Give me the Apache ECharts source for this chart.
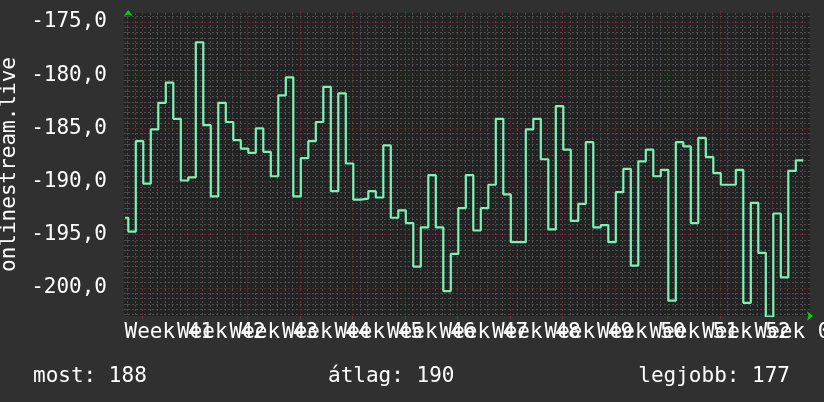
<!DOCTYPE html>
<html><head><meta charset="utf-8">
<script src="https://cdn.jsdelivr.net/npm/echarts@6/dist/echarts.min.js"></script>
<style>html,body{margin:0;padding:0;background:#303030;}#c{width:824px;height:402px;}</style>
</head><body><div id="c"></div>
<script>
// Daily values (one per day, oldest first)
const values = [
  -193.4, -194.7, -186.2, -190.2, -185.1, -182.6, -180.7, -184.1, -189.9, -189.6,
  -176.9, -184.7, -191.4, -182.6, -184.4, -186.1, -186.9, -187.3, -185.0, -187.2,
  -189.5, -181.9, -180.2, -191.4, -187.8, -186.2, -184.4, -181.1, -190.9, -181.7,
  -188.3, -191.7, -191.6, -190.9, -191.5, -186.6, -193.4, -192.7, -193.9, -198.0,
  -194.3, -189.4, -194.3, -200.3, -196.8, -192.5, -189.4, -194.6, -192.5, -190.3,
  -184.1, -191.2, -195.7, -195.7, -185.1, -184.1, -187.9, -194.5, -182.9, -187.0,
  -193.7, -192.1, -186.3, -194.3, -194.1, -195.7, -191.0, -188.8, -197.9, -188.1,
  -187.0, -189.5, -188.9, -201.2, -186.3, -186.7, -193.9, -185.9, -187.7, -189.2,
  -190.3, -190.3, -188.9, -201.4, -192.0, -196.7, -202.7, -193.0, -199.0, -189.0,
  -188.0
];
const weekLabels = ['Week 41','Week 42','Week 43','Week 44','Week 45','Week 46','Week 47',
  'Week 48','Week 49','Week 50','Week 51','Week 52','Week 01'];
const yTickValues = [-200, -195, -190, -185, -180, -175];
const summaryTexts = ['most: 188', 'átlag: 190', 'legjobb: 177'];
const seriesName = 'onlinestream.live';

// axis geometry (days)
const X_MIN = -0.573, X_MAX = 90.893, START = -0.44;
const WEEK0 = 1.9;
const Y_MIN = -202.64, Y_MAX = -174.15;

const dayLines = [];
for (let d = WEEK0 - 2; d <= X_MAX; d += 1) dayLines.push(+d.toFixed(2));
const weekLines = [];
for (let w = WEEK0; w <= X_MAX; w += 7) weekLines.push(+w.toFixed(2));
const labelCenters = weekLabels.map((_, k) => +(WEEK0 + 3.5 + 7 * k).toFixed(2));
// empty guard labels at both ends so no week label is dropped
const xLabelValues = [X_MIN].concat(labelCenters, [X_MAX]);
const yMinor = [];
for (let i = Math.ceil(Y_MIN * 2); i <= Math.floor(Y_MAX * 2); i++) yMinor.push(i / 2);

const data = [[START, values[0]]].concat(values.map((v, i) => [i, v]));

const FONT = 'DejaVu Sans Mono';
const GREY = '#4e4e4e', RED = '#662b2b', ARROW = '#00d400';
const txt = { color: '#fff', fontFamily: FONT, fontSize: 21, fontWeight: 'normal' };

function xLabel(v) {
  if (v <= X_MIN + 0.01 || v >= X_MAX - 0.01) return '';
  return weekLabels[Math.round((v - WEEK0 - 3.5) / 7)] || '';
}

const chart = echarts.init(document.getElementById('c'));
chart.setOption({
  backgroundColor: '#303030',
  animation: false,
  title: [
    { text: summaryTexts[0], left: 28, top: 361, textStyle: txt },
    { text: summaryTexts[1], left: 323, top: 361, textStyle: txt },
    { text: summaryTexts[2], right: 29, top: 361, textStyle: txt }
  ],
  grid: { left: 124, right: 14, top: 13, bottom: 86, show: true, backgroundColor: '#232323', borderWidth: 0,
          containLabel: false, outerBoundsMode: 'none' },
  xAxis: [
    {
      type: 'value', position: 'bottom', min: X_MIN, max: X_MAX,
      axisLine: { show: true, symbol: ['none', 'arrow'], symbolSize: [7, 6], symbolOffset: [0, 3],
                  lineStyle: { color: ARROW, width: 0 } },
      axisTick: { show: false, customValues: dayLines },
      axisLabel: {
        customValues: xLabelValues, color: '#fff', fontFamily: FONT, fontSize: 21, margin: 6,
        showMinLabel: true, showMaxLabel: true, hideOverlap: false,
        formatter: xLabel
      },
      splitLine: { show: true, lineStyle: { color: GREY, type: [2, 2], width: 1 } }
    },
    {
      type: 'value', position: 'top', min: X_MIN, max: X_MAX,
      axisLine: { show: false },
      axisTick: { show: true, customValues: weekLines, inside: false, length: 2, lineStyle: { color: RED } },
      axisLabel: { show: false },
      splitLine: { show: true, lineStyle: { color: RED, type: [2, 2], width: 1 } }
    },
    {
      type: 'value', position: 'bottom', offset: 0, min: X_MIN, max: X_MAX,
      axisLine: { show: false },
      axisTick: { show: true, customValues: weekLines, inside: false, length: 3, lineStyle: { color: '#7a3030' } },
      axisLabel: { show: false },
      splitLine: { show: false }
    }
  ],
  yAxis: [
    {
      type: 'value', position: 'left', min: Y_MIN, max: Y_MAX,
      name: seriesName, nameLocation: 'middle', nameGap: 100, nameRotate: 90,
      nameTextStyle: { color: '#fff', fontFamily: FONT, fontSize: 21 },
      axisLine: { show: true, symbol: ['none', 'arrow'], symbolSize: [7, 6], symbolOffset: [0, 3],
                  lineStyle: { color: ARROW, width: 0 } },
      axisTick: { show: true, customValues: yMinor, inside: false, length: 3, lineStyle: { color: '#454545' } },
      axisLabel: {
        customValues: yTickValues, color: '#fff', fontFamily: FONT, fontSize: 21, margin: 17,
        showMinLabel: true, showMaxLabel: true,
        formatter: (v) => v.toFixed(1).replace('.', ',')
      },
      splitLine: { show: true, lineStyle: { color: GREY, type: [2, 2], width: 1 } }
    },
    {
      type: 'value', position: 'right', min: Y_MIN, max: Y_MAX,
      axisLine: { show: false },
      axisTick: { show: false, customValues: yTickValues },
      axisLabel: { show: false },
      splitLine: { show: true, lineStyle: { color: RED, type: [2, 2], width: 1 } }
    }
  ],
  series: [{
    name: seriesName, type: 'line', step: 'start', xAxisIndex: 0, yAxisIndex: 0,
    data: data, showSymbol: false, symbol: 'none', clip: true,
    lineStyle: { color: '#7cf2b6', width: 2.2 }
  }]
});
</script></body></html>
